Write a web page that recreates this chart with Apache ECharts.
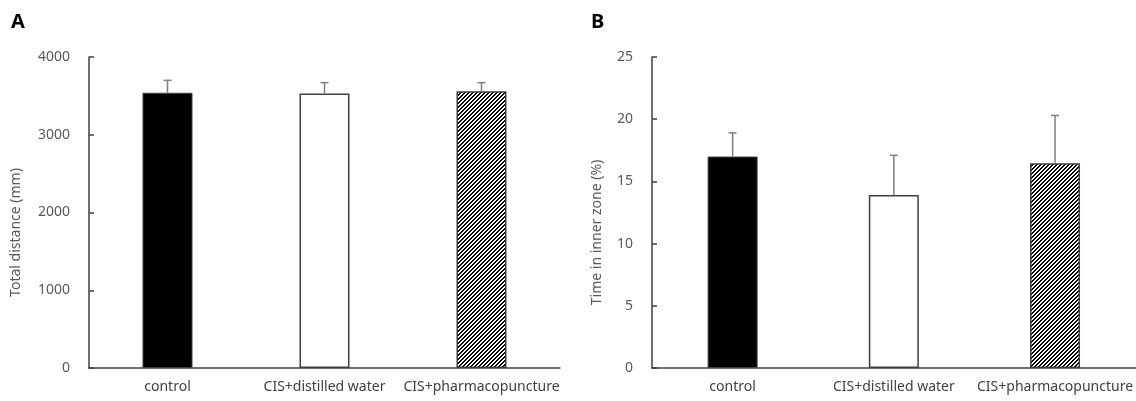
<!DOCTYPE html>
<html>
<head>
<meta charset="utf-8">
<script src="https://cdn.jsdelivr.net/npm/echarts@6/dist/echarts.min.js"></script>
<style>
  html, body { margin: 0; padding: 0; background: #fff; }
  #chart { width: 1136px; height: 401px; }
</style>
</head>
<body>
<div id="chart"></div>
<script>
// data
var categories = ['control', 'CIS+distilled water', 'CIS+pharmacopuncture'];
var distanceMeans = [3540, 3530, 3560];
var distanceSD = [160, 140, 110];
var zoneMeans = [17.0, 13.9, 16.45];
var zoneSD = [1.9, 3.2, 3.85];

var fontFamily = '"Noto Sans", "Open Sans", sans-serif';

// diagonal hatch for the third bar
function makeHatch() {
  var c = document.createElement('canvas');
  c.width = 4; c.height = 4;
  var ctx = c.getContext('2d');
  var img = ctx.createImageData(4, 4);
  for (var y = 0; y < 4; y++) {
    for (var x = 0; x < 4; x++) {
      var k = (x + y) % 4;
      var v = (k === 0 || k === 1) ? 0 : 255;
      var i = (y * 4 + x) * 4;
      img.data[i] = v; img.data[i + 1] = v; img.data[i + 2] = v; img.data[i + 3] = 255;
    }
  }
  ctx.putImageData(img, 0, 0);
  return c;
}
var hatch = makeHatch();

var barStyles = [
  { color: '#000', borderColor: '#404040', borderWidth: 1 },
  { color: '#fff', borderColor: '#404040', borderWidth: 1.5 },
  { color: { image: hatch, repeat: 'repeat' }, borderColor: '#404040', borderWidth: 1.5 }
];

function barData(means) {
  return means.map(function (v, i) {
    return { value: v, itemStyle: barStyles[i] };
  });
}

function errData(means, sd) {
  return means.map(function (v, i) { return [i, v, v + sd[i]]; });
}

function renderErr(params, api) {
  var p0 = api.coord([api.value(0), api.value(1)]);
  var p1 = api.coord([api.value(0), api.value(2)]);
  var style = { stroke: '#7f7f7f', lineWidth: 1.5 };
  return {
    type: 'group',
    children: [
      { type: 'line', shape: { x1: p0[0], y1: p0[1], x2: p1[0], y2: p1[1] }, style: style },
      { type: 'line', shape: { x1: p1[0] - 4, y1: p1[1], x2: p1[0] + 4, y2: p1[1] }, style: style }
    ]
  };
}

function xAxisFor(gridIndex) {
  return {
    type: 'category',
    gridIndex: gridIndex,
    data: categories,
    axisLine: { lineStyle: { color: '#404040', width: 1.5 } },
    axisTick: { show: false },
    axisLabel: { interval: 0, color: '#404040', fontSize: 14, fontFamily: fontFamily, margin: 12 }
  };
}

function yAxisFor(gridIndex, max, interval, name, nameGap) {
  return {
    type: 'value',
    gridIndex: gridIndex,
    min: 0,
    max: max,
    interval: interval,
    name: name,
    nameLocation: 'middle',
    nameGap: nameGap,
    nameTextStyle: { color: '#595959', fontSize: 14, fontFamily: fontFamily, padding: [0, 40, 0, 0] },
    splitLine: { show: false },
    axisLine: { show: true, lineStyle: { color: '#404040', width: 1.5 } },
    axisTick: { show: true, inside: true, length: 5, lineStyle: { color: '#404040', width: 1.5 } },
    axisLabel: {
      color: '#595959', fontSize: 14, fontFamily: fontFamily, margin: 19,
      formatter: function (v) { return String(v); }
    }
  };
}

var myChart = echarts.init(document.getElementById('chart'));

var option = {
  animation: false,
  backgroundColor: '#fff',
  title: [
    { text: 'A', left: 6, top: 7, textStyle: { fontSize: 20, fontWeight: 'bold', color: '#000', fontFamily: fontFamily } },
    { text: 'B', left: 586, top: 7, textStyle: { fontSize: 20, fontWeight: 'bold', color: '#000', fontFamily: fontFamily } }
  ],
  grid: [
    { left: 89, top: 57, width: 471, height: 311 },
    { left: 652, top: 57, width: 484, height: 311 }
  ],
  xAxis: [xAxisFor(0), xAxisFor(1)],
  yAxis: [
    yAxisFor(0, 4000, 1000, 'Total distance (mm)', 66),
    yAxisFor(1, 25, 5, 'Time in inner zone (%)', 48)
  ],
  series: [
    {
      type: 'bar', xAxisIndex: 0, yAxisIndex: 0, barWidth: 50,
      data: barData(distanceMeans), z: 2
    },
    {
      type: 'custom', xAxisIndex: 0, yAxisIndex: 0,
      renderItem: renderErr, data: errData(distanceMeans, distanceSD), z: 3
    },
    {
      type: 'bar', xAxisIndex: 1, yAxisIndex: 1, barWidth: 50,
      data: barData(zoneMeans), z: 2
    },
    {
      type: 'custom', xAxisIndex: 1, yAxisIndex: 1,
      renderItem: renderErr, data: errData(zoneMeans, zoneSD), z: 3
    }
  ]
};

myChart.setOption(option);
</script>
</body>
</html>
